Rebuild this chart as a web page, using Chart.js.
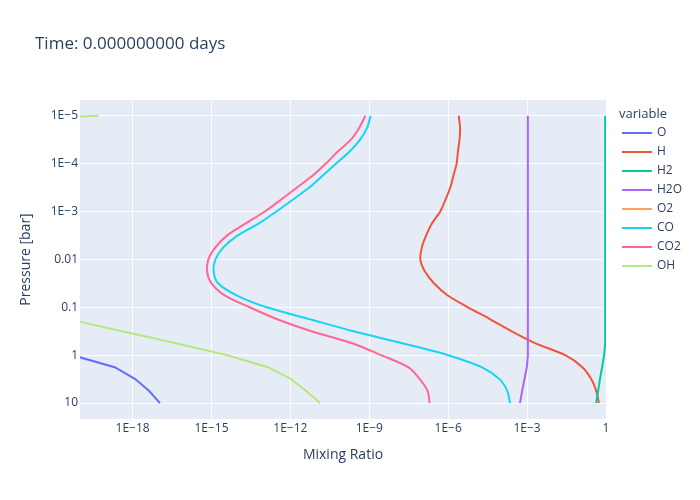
<!DOCTYPE html>
<html><head><meta charset="utf-8">
<script src="https://cdn.jsdelivr.net/npm/chart.js@4.4.1/dist/chart.umd.min.js"></script>
<style>
html,body{margin:0;padding:0;background:#fff;}
#wrap{position:relative;width:700px;height:500px;font-family:'Open Sans',sans-serif;color:#2a3f5f;overflow:hidden;}
#c{position:absolute;left:0;top:0;}
#title{position:absolute;left:35px;top:33.4px;font-size:17px;line-height:20px;white-space:nowrap;}
#legtitle{position:absolute;left:619px;top:105.3px;font-size:13px;line-height:16px;white-space:nowrap;}
.legline{position:absolute;width:30px;height:2px;}
.legtext{position:absolute;font-size:12px;line-height:14px;white-space:nowrap;}
</style></head><body>
<div id="wrap"><canvas id="c" width="700" height="500"></canvas>
<div id="title"></div><div id="legtitle"></div><div id="legend"></div></div>
<script>
// ---------- data ----------
const titleText = 'Time: 0.000000000 days';
const legendTitle = 'variable';
const xAxisTitle = 'Mixing Ratio';
const yAxisTitle = 'Pressure [bar]';

const pressure = [1e-5, 1.78e-5, 3.16e-5, 5.62e-5, 1e-4, 1.78e-4, 3.16e-4, 5.62e-4,
  1e-3, 1.78e-3, 3.16e-3, 5.62e-3, 0.01, 0.0178, 0.0316, 0.0562, 0.1, 0.178, 0.316, 0.562,
  1, 1.78, 3.16, 5.62, 10];

const species = ['O', 'H', 'H2', 'H2O', 'O2', 'CO', 'CO2', 'OH'];

const O = [1e-30, 1e-30, 1e-30, 1e-30, 1e-30, 1e-30, 1e-30, 1e-30, 1e-30, 1e-30,
  1e-30, 1e-30, 1e-30, 1e-30, 1e-30, 1e-30, 1e-30, 1e-30, 1e-30, 1e-30,
  5.01e-21, 2.09e-19, 1.26e-18, 4.27e-18, 1.10e-17];
const H = [2.51e-6, 2.82e-6, 2.69e-6, 2.34e-6, 2.09e-6, 1.58e-6, 1.20e-6, 7.94e-7,
  5.01e-7, 2.40e-7, 1.45e-7, 1.0e-7, 8.71e-8, 1.29e-7, 2.88e-7, 9.33e-7, 5.62e-6,
  3.98e-5, 2.51e-4, 2.0e-3, 0.0282, 0.126, 0.275, 0.427, 0.537];
const H2 = [0.93, 0.93, 0.93, 0.93, 0.93, 0.93, 0.93, 0.93, 0.93, 0.93,
  0.93, 0.93, 0.93, 0.93, 0.93, 0.93, 0.93, 0.93, 0.93, 0.93,
  0.85, 0.71, 0.59, 0.50, 0.42];
const H2O = [1.07e-3, 1.07e-3, 1.07e-3, 1.07e-3, 1.07e-3, 1.07e-3, 1.07e-3, 1.07e-3,
  1.07e-3, 1.07e-3, 1.07e-3, 1.07e-3, 1.07e-3, 1.07e-3, 1.07e-3, 1.07e-3, 1.07e-3,
  1.07e-3, 1.07e-3, 1.07e-3, 1.07e-3, 9.8e-4, 7.94e-4, 6.46e-4, 5.37e-4];
const O2 = [null, null, null, null, null, null, null, null, null, null, null, null, null,
  null, null, null, null, null, null, null, null, null, null, null, null];
const CO = [1.12e-9, 8.32e-10, 4.47e-10, 1.78e-10, 5.50e-11, 1.70e-11, 5.25e-12, 1.26e-12,
  2.95e-13, 6.31e-14, 1.0e-14, 2.82e-15, 1.41e-15, 1.20e-15, 1.78e-15, 8.91e-15,
  1.26e-13, 5.62e-12, 2.51e-10, 1.78e-8, 1.0e-6, 1.86e-5, 8.91e-5, 1.78e-4, 2.24e-4];
const CO2 = [7.08e-10, 4.17e-10, 2.0e-10, 6.31e-11, 2.24e-11, 7.08e-12, 1.78e-12, 4.47e-13,
  1.07e-13, 2.0e-14, 3.98e-15, 1.41e-15, 7.59e-16, 6.76e-16, 1.0e-15, 3.16e-15,
  2.82e-14, 3.16e-13, 6.31e-12, 2.24e-10, 2.82e-9, 3.02e-8, 8.32e-8, 1.66e-7, 1.95e-7];
const OH = [5.01e-20, 1e-30, 1e-30, 1e-30, 1e-30, 1e-30, 1e-30, 1e-30, 1e-30, 1e-30,
  1e-30, 1e-30, 1e-30, 1e-30, 1e-30, 1e-30, 1e-30, 3.98e-21, 3.98e-19, 4.47e-17,
  3.98e-15, 1.41e-13, 1.07e-12, 3.98e-12, 1.35e-11];

const seriesValues = {O, H, H2, H2O, O2, CO, CO2, OH};

const xTickValues = [1e-18, 1e-15, 1e-12, 1e-9, 1e-6, 1e-3, 1];
const xTickLabels = ['1E\u221218', '1E\u221215', '1E\u221212', '1E\u22129', '1E\u22126', '1E\u22123', '1'];
const yTickValues = [1e-5, 1e-4, 1e-3, 0.01, 0.1, 1, 10];
const yTickLabels = ['1E\u22125', '1E\u22124', '1E\u22123', '0.01', '0.1', '1', '10'];

// ---------- styles ----------
const colors = {O: '#636efa', H: '#EF553B', H2: '#00cc96', H2O: '#ab63fa', O2: '#FFA15A',
  CO: '#19d3f3', CO2: '#FF6692', OH: '#B6E880'};
const smooth = {H: 0.3, CO: 0.3, CO2: 0.3};
const textColor = '#2a3f5f';
const fam = "'Open Sans', sans-serif";

// ---------- chart ----------
const datasets = species.map((name, i) => ({
  label: name,
  data: pressure.map((p, k) => ({x: seriesValues[name][k], y: p})),
  borderColor: colors[name],
  backgroundColor: colors[name],
  borderWidth: 2,
  pointRadius: 0,
  showLine: true,
  tension: smooth[name] || 0,
  fill: false,
  spanGaps: false,
  clip: 0,
  order: species.length - i
}));

const bgPlugin = {
  id: 'bg',
  beforeDraw(chart) {
    const {ctx, chartArea: a} = chart;
    ctx.save();
    ctx.fillStyle = '#E5ECF6';
    ctx.fillRect(a.left, a.top, a.right - a.left, a.bottom - a.top);
    ctx.restore();
  }
};

new Chart(document.getElementById('c'), {
  type: 'scatter',
  data: {datasets},
  plugins: [bgPlugin],
  options: {
    responsive: false,
    animation: false,
    events: [],
    layout: {padding: {left: 0, right: 94, top: 100, bottom: 0}},
    plugins: {legend: {display: false}, tooltip: {enabled: false}, title: {display: false}},
    scales: {
      x: {
        type: 'logarithmic', min: 1e-20, max: 1, bounds: 'data',
        grid: {color: '#ffffff', lineWidth: 1, drawTicks: false},
        border: {display: false},
        ticks: {autoSkip: false, maxRotation: 0, minRotation: 0, padding: 2, color: textColor,
          font: {family: fam, size: 12}, callback: (v, i) => xTickLabels[i]},
        afterBuildTicks: s => { s.ticks = xTickValues.map(v => ({value: v})); },
        afterFit: s => { s.height = 81; },
        title: {display: true, text: xAxisTitle, color: textColor, font: {family: fam, size: 14},
          padding: {top: 0, bottom: 37}}
      },
      y: {
        type: 'logarithmic', reverse: true, min: 4.71e-6, max: 21.5, bounds: 'data',
        grid: {color: '#ffffff', lineWidth: 1, drawTicks: false},
        border: {display: false},
        ticks: {autoSkip: false, padding: 2, color: textColor,
          font: {family: fam, size: 12}, callback: (v, i) => yTickLabels[i]},
        afterBuildTicks: s => { s.ticks = yTickValues.map(v => ({value: v})); },
        afterFit: s => { s.width = 80; },
        title: {display: true, text: yAxisTitle, color: textColor, font: {family: fam, size: 14},
          padding: {top: 18, bottom: 0}}
      }
    }
  }
});

// ---------- title & legend (HTML text) ----------
document.getElementById('title').textContent = titleText;
document.getElementById('legtitle').textContent = legendTitle;
const leg = document.getElementById('legend');
species.forEach((name, i) => {
  const y = 132.7 + i * 19.05;
  const line = document.createElement('div');
  line.className = 'legline';
  line.style.left = '622px';
  line.style.top = (y - 1) + 'px';
  line.style.background = colors[name];
  leg.appendChild(line);
  const t = document.createElement('div');
  t.className = 'legtext';
  t.style.left = '657px';
  t.style.top = (y - 7.7) + 'px';
  t.textContent = name;
  leg.appendChild(t);
});
</script>
</body></html>
